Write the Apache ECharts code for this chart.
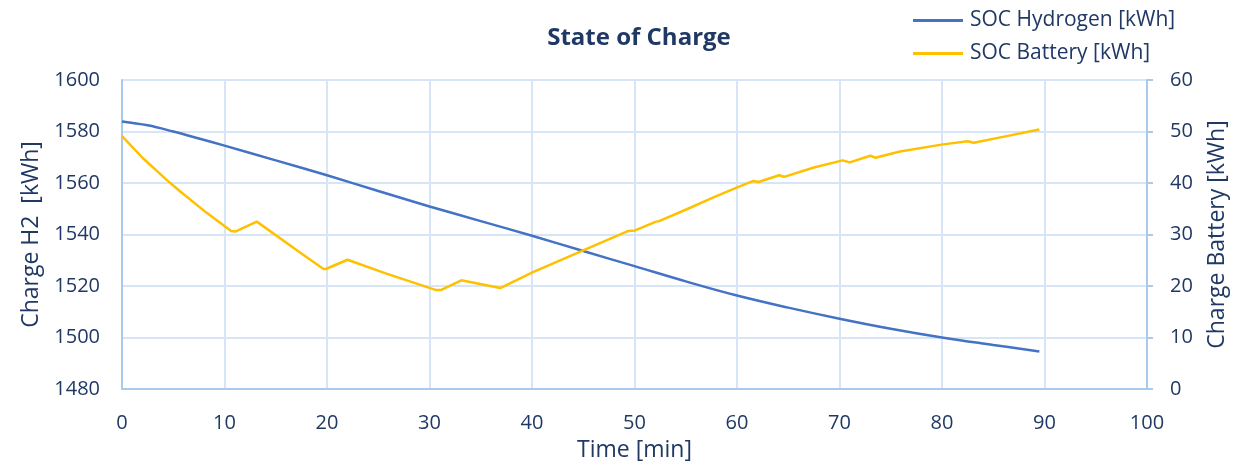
<!DOCTYPE html>
<html><head><meta charset="utf-8">
<script src="https://cdn.jsdelivr.net/npm/echarts@6/dist/echarts.min.js"></script>
<style>html,body{margin:0;padding:0;background:#fff}#c{width:1260px;height:467px}</style>
</head><body><div id="c"></div>
<script>
const title = "State of Charge";
const xName = "Time [min]";
const leftName = "Charge H2  [kWh]";
const rightName = "Charge Battery [kWh]";
const seriesNames = ["SOC Hydrogen [kWh]", "SOC Battery [kWh]"];

const h2Time = [0, 2.5, 5, 7.5, 10, 15, 20, 25, 30, 35, 40, 45, 50, 55, 60, 65, 70, 75, 80, 85, 89.5];
const h2Values = [1583.9, 1582.4, 1580.0, 1577.3, 1574.5, 1568.8, 1563.0, 1556.9, 1550.9, 1545.2, 1539.5, 1533.6, 1527.7, 1521.8, 1516.3, 1511.6, 1507.3, 1503.4, 1500.0, 1497.1, 1494.6];

const batTime = [0, 2.0, 4.3, 5.6, 8.2, 10.65, 11.1, 13.15, 17.3, 19.66, 19.9, 22.0, 25.8, 30.66, 31.1, 33.1, 36.9, 40.1, 45.0, 49.4, 50.05, 52.1, 52.4, 55.1, 57.7, 60.2, 61.6, 62.1, 64.1, 64.6, 67.5, 70.3, 71.0, 73.0, 73.5, 75.9, 80.1, 82.5, 83.1, 86.3, 89.5];
const batValues = [49.1, 44.9, 40.7, 38.5, 34.3, 30.7, 30.6, 32.5, 26.6, 23.3, 23.3, 25.1, 22.4, 19.2, 19.2, 21.1, 19.6, 22.7, 26.9, 30.7, 30.8, 32.5, 32.6, 34.9, 37.2, 39.3, 40.4, 40.2, 41.5, 41.2, 43.0, 44.4, 44.0, 45.3, 44.9, 46.1, 47.5, 48.1, 47.8, 49.1, 50.4];

const xTicks = [0, 100, 10];
const leftTicks = [1480, 1600, 20];
const rightTicks = [0, 60, 10];

const txt = '#1F3864';
const font = 'Open Sans';
const gridCol = '#D6E6F6';
const axisCol = '#A9CBEB';
const plain = v => String(v);

const chart = echarts.init(document.getElementById('c'), null, {renderer: 'canvas'});
chart.setOption({
  animation: false,
  textStyle: {fontFamily: font, color: txt},
  title: {text: title, left: 634, textAlign: 'center', top: 21,
    textStyle: {fontFamily: font, fontWeight: 'bold', fontSize: 24, color: txt}},
  legend: {orient: 'vertical', left: 908, top: 5, itemWidth: 50, itemHeight: 3, itemGap: 12,
    data: seriesNames.map(n => ({name: n, icon: 'rect'})),
    textStyle: {fontFamily: font, fontSize: 21, color: txt, padding: [0,0,0,2]}},
  grid: {left: 122, right: 113, top: 80, bottom: 76},
  xAxis: {type: 'value', min: xTicks[0], max: xTicks[1], interval: xTicks[2],
    name: xName, nameLocation: 'middle', nameGap: 50,
    nameTextStyle: {fontFamily: font, fontSize: 23, color: txt},
    axisLine: {show: true, lineStyle: {color: axisCol, width: 2}},
    axisTick: {show: false},
    axisLabel: {fontFamily: font, fontSize: 20, color: txt, margin: 24, formatter: plain},
    splitLine: {show: true, lineStyle: {color: gridCol, width: 2}}},
  yAxis: [
    {type: 'value', min: leftTicks[0], max: leftTicks[1], interval: leftTicks[2], position: 'left',
     name: leftName, nameLocation: 'middle', nameGap: 74, nameRotate: 90,
     nameTextStyle: {fontFamily: font, fontSize: 23, color: txt},
     axisLine: {show: true, lineStyle: {color: axisCol, width: 2}},
     axisTick: {show: false},
     axisLabel: {fontFamily: font, fontSize: 20, color: txt, margin: 22, formatter: plain},
     splitLine: {show: true, lineStyle: {color: gridCol, width: 2}}},
    {type: 'value', min: rightTicks[0], max: rightTicks[1], interval: rightTicks[2], position: 'right',
     name: rightName, nameLocation: 'middle', nameGap: 59, nameRotate: 90,
     nameTextStyle: {fontFamily: font, fontSize: 23, color: txt},
     axisLine: {show: true, lineStyle: {color: axisCol, width: 2}},
     axisTick: {show: true, length: 6, lineStyle: {color: axisCol, width: 2}},
     axisLabel: {fontFamily: font, fontSize: 20, color: txt, margin: 23, formatter: plain},
     splitLine: {show: false}}
  ],
  series: [
    {name: seriesNames[0], type: 'line', yAxisIndex: 0, symbol: 'none', smooth: 0.4,
     lineStyle: {color: '#4472C4', width: 2.5}, itemStyle: {color: '#4472C4'},
     data: h2Time.map((t, i) => [t, h2Values[i]])},
    {name: seriesNames[1], type: 'line', yAxisIndex: 1, symbol: 'none',
     lineStyle: {color: '#FFC000', width: 2.5}, itemStyle: {color: '#FFC000'},
     data: batTime.map((t, i) => [t, batValues[i]])}
  ]
});
</script></body></html>
